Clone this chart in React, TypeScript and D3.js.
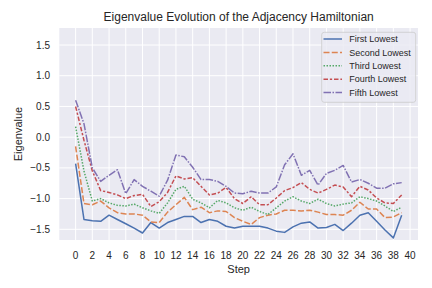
import React from "react";
import * as d3 from "d3";

const steps = d3.range(0, 40);

const firstLowest = [-0.43, -1.34, -1.36, -1.37, -1.27, -1.34, -1.41, -1.48, -1.56, -1.39, -1.48, -1.39, -1.34, -1.29, -1.29, -1.39, -1.34, -1.37, -1.45, -1.48, -1.45, -1.45, -1.45, -1.48, -1.53, -1.55, -1.46, -1.40, -1.38, -1.48, -1.47, -1.42, -1.52, -1.40, -1.27, -1.23, -1.37, -1.51, -1.64, -1.27];
const secondLowest = [-0.15, -1.08, -1.10, -1.04, -1.15, -1.23, -1.25, -1.25, -1.27, -1.38, -1.39, -1.22, -1.10, -0.98, -1.18, -1.14, -1.23, -1.20, -1.21, -1.31, -1.37, -1.42, -1.31, -1.27, -1.25, -1.19, -1.19, -1.20, -1.19, -1.22, -1.26, -1.26, -1.27, -1.19, -1.06, -1.17, -1.17, -1.31, -1.30, -1.23];
const thirdLowest = [0.17, -0.55, -1.04, -1.00, -1.07, -1.11, -1.12, -1.09, -1.15, -1.20, -1.24, -1.07, -0.85, -0.80, -1.01, -1.07, -1.15, -1.03, -1.07, -1.15, -1.19, -1.14, -1.21, -1.26, -1.15, -1.04, -0.97, -1.04, -1.08, -1.01, -1.08, -1.12, -1.09, -1.07, -0.97, -1.00, -1.04, -1.12, -1.21, -1.14];
const fourthLowest = [0.50, -0.05, -0.55, -0.87, -0.90, -0.94, -1.00, -0.95, -0.93, -1.13, -1.05, -0.90, -0.63, -0.68, -0.66, -0.80, -0.94, -0.91, -0.82, -1.00, -1.08, -0.97, -1.10, -1.10, -0.99, -0.87, -0.82, -0.74, -0.85, -0.91, -0.85, -0.78, -0.81, -0.97, -0.80, -0.86, -0.99, -1.07, -1.08, -0.94];
const fifthLowest = [0.60, 0.22, -0.50, -0.72, -0.62, -0.53, -0.92, -0.69, -0.80, -0.88, -0.96, -0.70, -0.29, -0.32, -0.49, -0.69, -0.69, -0.72, -0.80, -0.91, -0.92, -0.88, -0.91, -0.91, -0.81, -0.45, -0.27, -0.62, -0.54, -0.78, -0.59, -0.54, -0.46, -0.73, -0.69, -0.75, -0.83, -0.83, -0.76, -0.74];

const seriesNames = ["First Lowest", "Second Lowest", "Third Lowest", "Fourth Lowest", "Fifth Lowest"];
const seriesValues = [firstLowest, secondLowest, thirdLowest, fourthLowest, fifthLowest];
const colors = ["#4C72B0", "#DD8452", "#55A868", "#C44E52", "#8172B3"];
const dashes = ["", "6,2.25", "1.5,1.5", "4.5,1.875,2.25,1.875", "7.5,1.5,1.5,1.5"];

const xTicks = d3.range(0, 41, 2);
const yTicks = [-1.5, -1.0, -0.5, 0.0, 0.5, 1.0, 1.5];

const W = 432, H = 288;
const left = 59.3, right = 418, top = 28, bottom = 240;
const font = "'Liberation Sans', Arial, sans-serif";
const textColor = "#262626";

export default function App() {
  const x = d3.scaleLinear().domain([-1.95, 40.95]).range([left, right]);
  const y = d3.scaleLinear().domain([-1.674, 1.777]).range([bottom, top]);
  const line = d3.line<number>().x((_, i) => x(steps[i])).y(d => y(d));
  const fmt = (v: number) => v.toFixed(1).replace("-", "\u2212");

  return (
    <svg width={W} height={H} style={{ position: "absolute", left: 0, top: 0, background: "#fff" }} fontFamily={font}>
      <rect x={left} y={top} width={right - left} height={bottom - top} fill="#EAEAF2" />
      {xTicks.map(t => (
        <line key={"gx" + t} x1={x(t)} x2={x(t)} y1={top} y2={bottom} stroke="#fff" strokeWidth={1} />
      ))}
      {yTicks.map(t => (
        <line key={"gy" + t} x1={left} x2={right} y1={y(t)} y2={y(t)} stroke="#fff" strokeWidth={1} />
      ))}
      {seriesValues.map((vals, i) => (
        <path key={i} d={line(vals) || ""} fill="none" stroke={colors[i]} strokeWidth={1.5}
          strokeDasharray={dashes[i] || undefined} strokeLinejoin="round" />
      ))}
      {xTicks.map(t => (
        <text key={"tx" + t} x={x(t)} y={259} textAnchor="middle" fontSize={10} fill={textColor}>{t}</text>
      ))}
      {yTicks.map(t => (
        <text key={"ty" + t} x={50} y={y(t) + 3.6} textAnchor="end" fontSize={10} fill={textColor}>{fmt(t)}</text>
      ))}
      <text x={(left + right) / 2} y={273} textAnchor="middle" fontSize={11} fill={textColor}>Step</text>
      <text transform={`translate(21.5,${(top + bottom) / 2}) rotate(-90)`} textAnchor="middle" fontSize={11} fill={textColor}>Eigenvalue</text>
      <text x={(left + right) / 2} y={20.5} textAnchor="middle" fontSize={12} fill={textColor}>Eigenvalue Evolution of the Adjacency Hamiltonian</text>
      <g>
        <rect x={321.7} y={32.3} width={94} height={70} rx={2.5} fill="#EAEAF2" fillOpacity={0.8} stroke="#CCCCCC" strokeWidth={0.8} />
        <rect x={321.7} y={32.3} width={94} height={70} rx={2.5} fill="#FFFFFF" fillOpacity={0.0} />
        {seriesNames.map((name, i) => {
          const ly = 39 + i * 13.4;
          return (
            <g key={name}>
              <line x1={323.5} x2={342} y1={ly} y2={ly} stroke={colors[i]} strokeWidth={1.5} strokeDasharray={dashes[i] || undefined} />
              <text x={349.3} y={ly + 3.2} fontSize={9} fill={textColor}>{name}</text>
            </g>
          );
        })}
      </g>
    </svg>
  );
}
